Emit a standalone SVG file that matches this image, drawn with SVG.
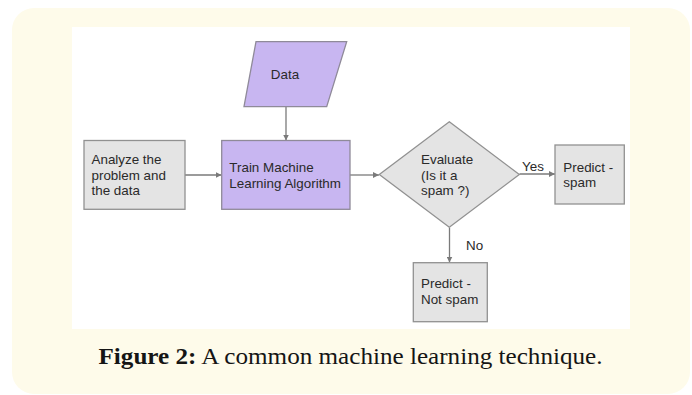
<svg xmlns="http://www.w3.org/2000/svg" width="692" height="395" viewBox="0 0 692 395">
  <style>
    .box { fill: #e4e4e4; stroke: #919191; stroke-width: 1.3; }
    .ml { fill: #c8b6f1; stroke: #8f8a99; stroke-width: 1.3; }
    .lbl { font-family: "Liberation Sans", Arial, sans-serif; font-size: 13.4px; fill: #2a2a2a; }
    .edge { stroke: #7a7a7a; stroke-width: 1.3; fill: none; marker-end: url(#arrow); }
    .cap { font-family: "Liberation Serif", "DejaVu Serif", serif; font-size: 24px; fill: #151515; }
  </style>
  <defs>
    <marker id="arrow" viewBox="0 0 8 8" refX="8" refY="4" markerWidth="6" markerHeight="6" markerUnits="userSpaceOnUse" orient="auto">
      <path d="M0,0 L8,4 L0,8 Z" fill="#7a7a7a"/>
    </marker>
  </defs>

  <!-- cream panel and white figure area -->
  <rect x="12" y="8" width="678" height="386" rx="22" ry="22" fill="#fefbea"/>
  <rect x="72" y="27" width="558" height="302" fill="#ffffff"/>

  <!-- connectors -->
  <g id="connectors">
    <line class="edge" x1="286" y1="107" x2="286" y2="140.5"/>
    <line class="edge" x1="185" y1="175" x2="221.5" y2="175"/>
    <line class="edge" x1="350" y1="175" x2="379" y2="175"/>
    <line class="edge" x1="519.5" y1="174" x2="555" y2="174"/>
    <line class="edge" x1="449.5" y1="227.5" x2="449.5" y2="262.5"/>
    <text class="lbl" x="522" y="171">Yes</text>
    <text class="lbl" x="466" y="249.5">No</text>
  </g>

  <g id="data">
    <polygon class="ml" points="256,41.7 346.7,41.7 326.7,106.7 244,106.7"/>
    <text class="lbl" x="285" y="79" text-anchor="middle">Data</text>
  </g>

  <g id="analyze">
    <rect class="box" x="84" y="140.5" width="101" height="68.8"/>
    <text class="lbl" x="91.5" y="164">Analyze the</text>
    <text class="lbl" x="91.5" y="179.5">problem and</text>
    <text class="lbl" x="91.5" y="195">the data</text>
  </g>

  <g id="train">
    <rect class="ml" x="221.7" y="140.5" width="128.3" height="68.8"/>
    <text class="lbl" x="229.3" y="171.7">Train Machine</text>
    <text class="lbl" x="229.3" y="187.7">Learning Algorithm</text>
  </g>

  <g id="evaluate">
    <polygon class="box" points="449.3,121.7 519.3,174.5 449.3,227.3 379.3,174.5"/>
    <text class="lbl" x="421" y="164">Evaluate</text>
    <text class="lbl" x="421" y="179.5">(Is it a</text>
    <text class="lbl" x="421" y="195">spam ?)</text>
  </g>

  <g id="predict-spam">
    <rect class="box" x="555" y="145" width="69.3" height="59"/>
    <text class="lbl" x="563.3" y="171.5">Predict -</text>
    <text class="lbl" x="563.3" y="186.5">spam</text>
  </g>

  <g id="predict-not-spam">
    <rect class="box" x="413.3" y="262.7" width="74" height="59"/>
    <text class="lbl" x="421" y="288.3">Predict -</text>
    <text class="lbl" x="421" y="304.3">Not spam</text>
  </g>

  <!-- caption -->
  <text class="cap" x="98.5" y="364" textLength="504" lengthAdjust="spacingAndGlyphs"><tspan font-weight="bold">Figure 2:</tspan> A common machine learning technique.</text>
</svg>
